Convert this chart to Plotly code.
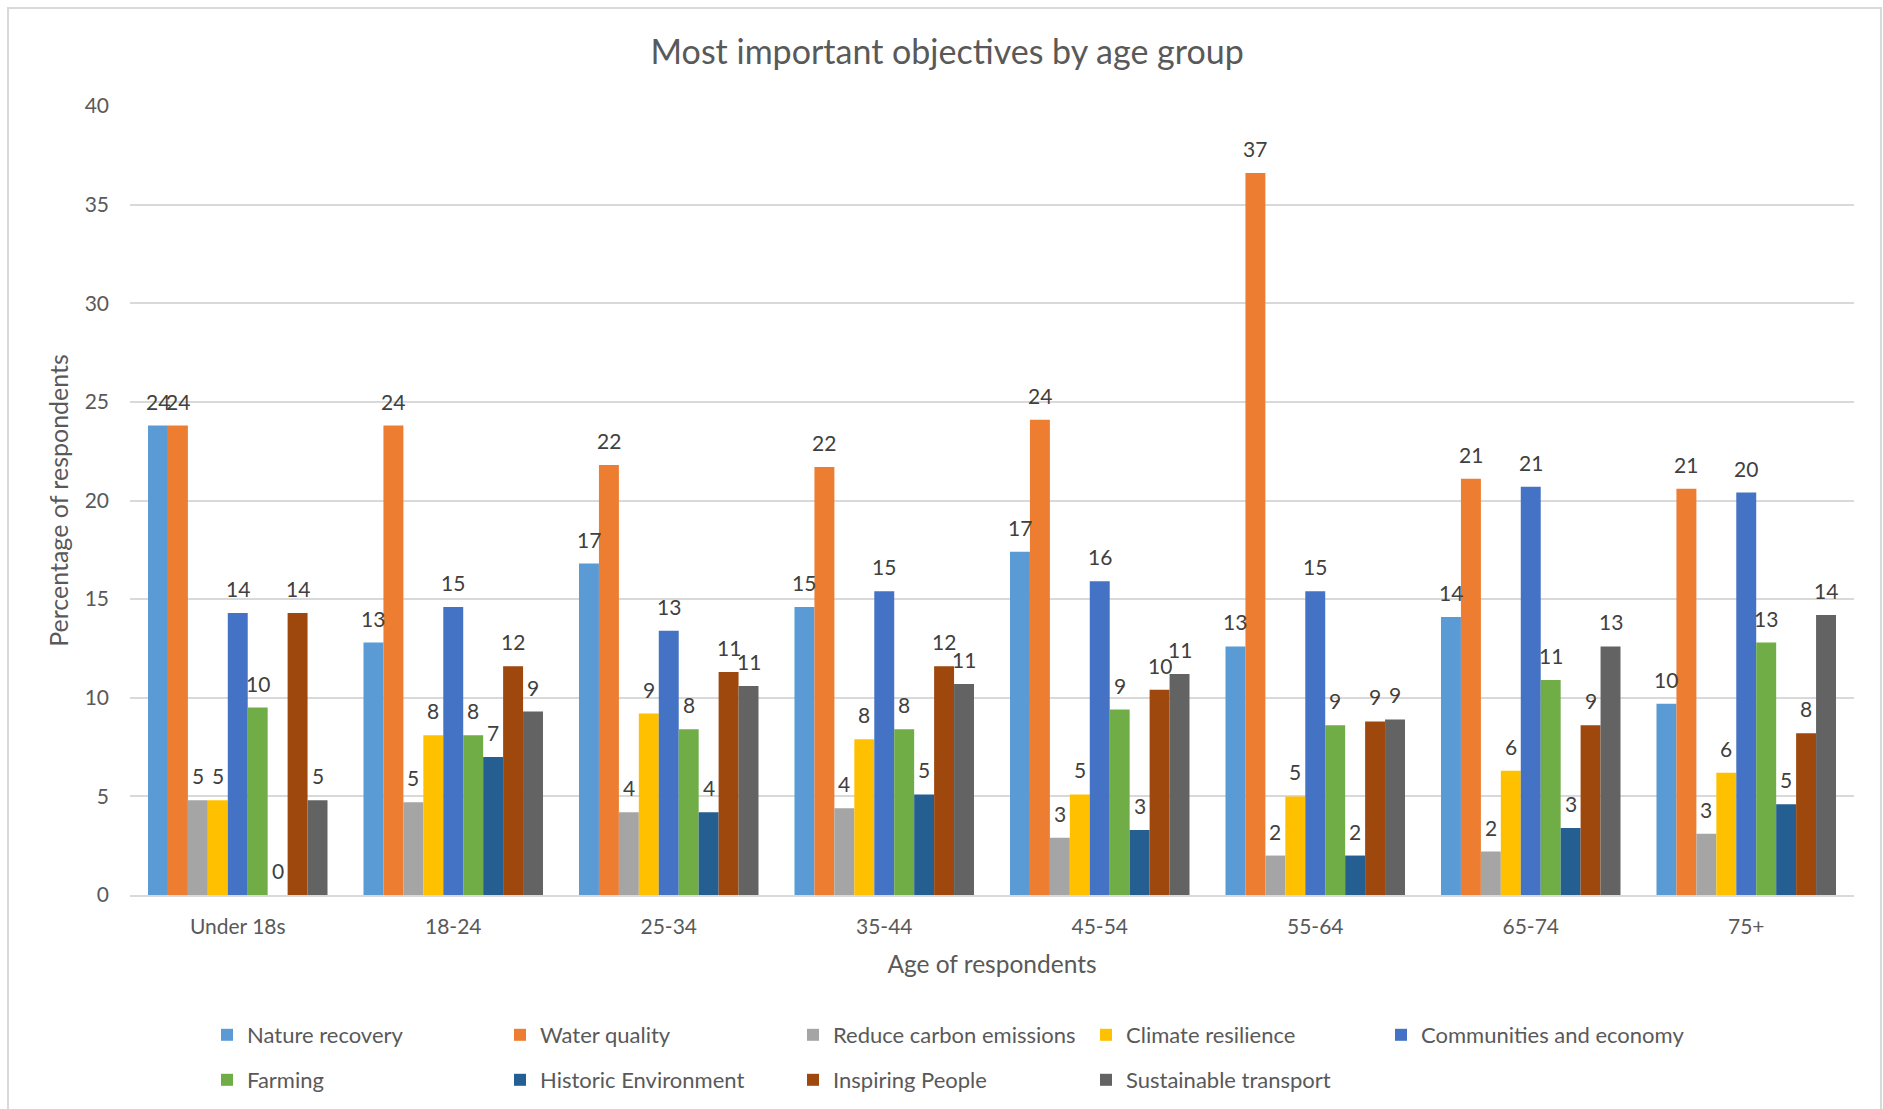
import plotly.graph_objects as go

# Age groups on the x axis
age_groups = ["Under 18s", "18-24", "25-34", "35-44", "45-54", "55-64", "65-74", "75+"]

# Percentage of respondents choosing each objective, per age group
nature_recovery = [23.8, 12.8, 16.8, 14.6, 17.4, 12.6, 14.1, 9.7]
water_quality = [23.8, 23.8, 21.8, 21.7, 24.1, 36.6, 21.1, 20.6]
reduce_carbon_emissions = [4.8, 4.7, 4.2, 4.4, 2.9, 2.0, 2.2, 3.1]
climate_resilience = [4.8, 8.1, 9.2, 7.9, 5.1, 5.0, 6.3, 6.2]
communities_and_economy = [14.3, 14.6, 13.4, 15.4, 15.9, 15.4, 20.7, 20.4]
farming = [9.5, 8.1, 8.4, 8.4, 9.4, 8.6, 10.9, 12.8]
historic_environment = [0.0, 7.0, 4.2, 5.1, 3.3, 2.0, 3.4, 4.6]
inspiring_people = [14.3, 11.6, 11.3, 11.6, 10.4, 8.8, 8.6, 8.2]
sustainable_transport = [4.8, 9.3, 10.6, 10.7, 11.2, 8.9, 12.6, 14.2]

series_names = [
    "Nature recovery", "Water quality", "Reduce carbon emissions",
    "Climate resilience", "Communities and economy", "Farming",
    "Historic Environment", "Inspiring People", "Sustainable transport",
]
series_values = [
    nature_recovery, water_quality, reduce_carbon_emissions,
    climate_resilience, communities_and_economy, farming,
    historic_environment, inspiring_people, sustainable_transport,
]
series_colors = [
    "#5B9BD5", "#ED7D31", "#A5A5A5", "#FFC000", "#4472C4",
    "#70AD47", "#255E91", "#9E480E", "#636363",
]
# Which legend box each series is listed in (two rows, wide last entry on its own)
series_legends = [
    "legend", "legend", "legend", "legend", "legend3",
    "legend2", "legend2", "legend2", "legend2",
]

FONT = "Lato"
TEXT_GREY = "#595959"
LABEL_GREY = "#404040"
GRID = "#D9D9D9"

W, H = 1883, 1109
M_L, M_R, M_T, M_B = 130, 29, 106, 214
PLOT_W = W - M_L - M_R
PLOT_H = H - M_T - M_B
BARGAP = 0.167


def px_x(p):
    return (p - M_L) / PLOT_W


def px_y(p):
    return (H - M_B - p) / PLOT_H


fig = go.Figure()
for name, vals, col, leg in zip(series_names, series_values, series_colors, series_legends):
    fig.add_trace(go.Bar(
        name=name,
        x=age_groups,
        y=vals,
        marker=dict(color=col, line=dict(width=0)),
        legend=leg,
    ))

# Rounded value labels above every bar
n_series = len(series_names)
slot = (1 - BARGAP) / n_series
annotations = []
for k, vals in enumerate(series_values):
    for j, v in enumerate(vals):
        annotations.append(dict(
            x=j + (k - (n_series - 1) / 2) * slot,
            y=v,
            xref="x", yref="y",
            text=f"{v:.0f}",
            showarrow=False,
            yanchor="bottom",
            yshift=10,
            font=dict(family=FONT, size=21, color=LABEL_GREY),
        ))

legend_common = dict(
    orientation="h",
    xanchor="left",
    yanchor="middle",
    font=dict(family=FONT, size=22, color=TEXT_GREY),
    bgcolor="rgba(0,0,0,0)",
    itemclick=False,
    itemdoubleclick=False,
)

fig.update_layout(
    width=W,
    height=H,
    margin=dict(l=M_L, r=M_R, t=M_T, b=M_B, autoexpand=False),
    paper_bgcolor="white",
    plot_bgcolor="white",
    barmode="group",
    bargap=BARGAP,
    bargroupgap=0,
    font=dict(family=FONT, color=TEXT_GREY),
    title=dict(
        text="Most important objectives by age group",
        font=dict(family=FONT, size=34, color=TEXT_GREY),
        x=0.503, xref="container", xanchor="center",
        y=1 - 52 / H, yref="container", yanchor="middle",
    ),
    xaxis=dict(
        showgrid=False,
        showline=True,
        linecolor=GRID,
        linewidth=1.5,
        ticks="",
        ticklabelstandoff=12,
        tickfont=dict(family=FONT, size=21, color=TEXT_GREY),
        title=dict(text="Age of respondents", standoff=19,
                   font=dict(family=FONT, size=24.5, color=TEXT_GREY)),
    ),
    yaxis=dict(
        range=[0, 40],
        dtick=5,
        showgrid=True,
        gridcolor=GRID,
        gridwidth=1.5,
        zeroline=False,
        showline=False,
        ticks="",
        ticklabelstandoff=20,
        tickfont=dict(family=FONT, size=21, color=TEXT_GREY),
        title=dict(text="Percentage of respondents", standoff=8,
                   font=dict(family=FONT, size=25, color=TEXT_GREY)),
    ),
    legend=dict(**legend_common, x=px_x(207), y=px_y(1035),
                entrywidth=248, entrywidthmode="pixels"),
    legend2=dict(**legend_common, x=px_x(207), y=px_y(1080),
                 entrywidth=248, entrywidthmode="pixels"),
    legend3=dict(**legend_common, x=px_x(1381), y=px_y(1035)),
    annotations=annotations,
    shapes=[dict(
        type="rect", xref="paper", yref="paper",
        x0=px_x(8), x1=px_x(1881), y0=px_y(1125), y1=px_y(8),
        line=dict(color=GRID, width=2), fillcolor="rgba(0,0,0,0)",
        layer="below",
    )],
)

fig.write_html("out.html")
